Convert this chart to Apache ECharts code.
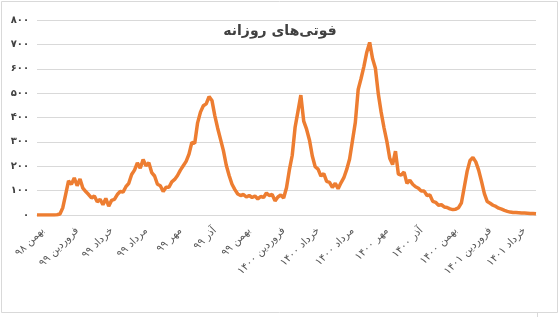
<!DOCTYPE html>
<html>
<head>
<meta charset="utf-8">
<style>
  html, body { margin: 0; padding: 0; background: #fff; }
  #chart { width: 560px; height: 317px; }
</style>
<script src="https://cdn.jsdelivr.net/npm/echarts@6/dist/echarts.min.js"></script>
</head>
<body>
<div id="chart"></div>
<script>
const deaths = [
  0, 0, 0, 0, 0, 0, 0, 1, 4, 30,
  85, 140, 126, 152, 120, 148, 110, 96, 84, 70,
  78, 54, 64, 42, 68, 36, 60, 64, 84, 96,
  94, 116, 130, 166, 184, 214, 192, 228, 202, 214,
  174, 160, 126, 120, 96, 114, 114, 136, 146, 162,
  184, 202, 220, 250, 298, 294, 378, 422, 448, 456,
  486, 470, 408, 356, 310, 264, 204, 162, 126, 104,
  86, 80, 84, 74, 80, 72, 78, 66, 76, 72,
  90, 80, 84, 58, 74, 82, 70, 112, 185, 245,
  360, 425, 492, 385, 352, 308, 242, 198, 188, 160,
  170, 138, 134, 113, 130, 108, 132, 153, 187, 230,
  305, 380, 515, 560, 610, 668, 708, 642, 602, 498,
  422, 358, 302, 233, 207, 262, 168, 164, 176, 130,
  143, 126, 116, 110, 98, 98, 80, 82, 56, 52,
  40, 42, 33, 31, 25, 22, 24, 30, 50, 115,
  180, 224, 236, 218, 184, 138, 88, 55, 48, 40,
  35, 28, 24, 19, 15, 12, 10, 10, 9, 8,
  8, 7, 6, 6, 5
];

// month labels, one every 12 samples starting at sample 2
const monthLabels = [
  "بهمن ۹۸", "فروردین ۹۹", "خرداد ۹۹", "مرداد ۹۹", "مهر ۹۹",
  "آذر ۹۹", "بهمن ۹۹", "فروردین ۱۴۰۰", "خرداد ۱۴۰۰", "مرداد ۱۴۰۰",
  "مهر ۱۴۰۰", "آذر ۱۴۰۰", "بهمن ۱۴۰۰", "فروردین ۱۴۰۱", "خرداد ۱۴۰۱"
];
const labelStart = 2;
const labelStep = 12;

const categories = deaths.map((_, i) => {
  const k = (i - labelStart) / labelStep;
  return Number.isInteger(k) && k >= 0 && k < monthLabels.length ? monthLabels[k] : "";
});

const faDigits = "۰۱۲۳۴۵۶۷۸۹";
const toFa = (v) => String(v).replace(/\d/g, (d) => faDigits[d]);

const chart = echarts.init(document.getElementById("chart"), null, { renderer: "canvas" });

chart.setOption({
  animation: false,
  backgroundColor: "#fff",
  title: {
    text: "فوتی‌های روزانه",
    left: "center",
    top: 19,
    textStyle: {
      fontFamily: "DejaVu Sans",
      fontSize: 14,
      fontWeight: "bold",
      color: "#404040",
    },
  },
  grid: { left: 37, right: 24, top: 20, bottom: 102 },
  xAxis: {
    type: "category",
    boundaryGap: false,
    data: categories,
    axisLine: { lineStyle: { color: "#d9d9d9" } },
    axisTick: { show: false },
    axisLabel: {
      interval: 0,
      rotate: 45,
      margin: 14,
      color: "#595959",
      fontFamily: "DejaVu Sans",
      fontSize: 10.5,
    },
  },
  yAxis: {
    type: "value",
    min: 0,
    max: 800,
    interval: 100,
    axisLine: { show: false },
    axisTick: { show: false },
    axisLabel: {
      margin: 8,
      color: "#404040",
      fontFamily: "DejaVu Sans",
      fontSize: 10,
      fontWeight: "bold",
      formatter: (v) => toFa(v),
    },
    splitLine: { lineStyle: { color: "#d9d9d9", width: 1 } },
  },
  series: [
    {
      type: "line",
      data: deaths,
      showSymbol: false,
      lineStyle: { color: "#ed7d31", width: 3.5 },
      itemStyle: { color: "#ed7d31" },
    },
  ],
  graphic: [
    {
      type: "rect",
      shape: { x: 1.5, y: 1.5, width: 556, height: 311 },
      style: { fill: null, stroke: "#d9d9d9", lineWidth: 1 },
      silent: true,
    },
    {
      type: "line",
      shape: { x1: 537.5, y1: 313, x2: 537.5, y2: 317 },
      style: { stroke: "#d9d9d9", lineWidth: 1 },
      silent: true,
    },
  ],
});
</script>
</body>
</html>
